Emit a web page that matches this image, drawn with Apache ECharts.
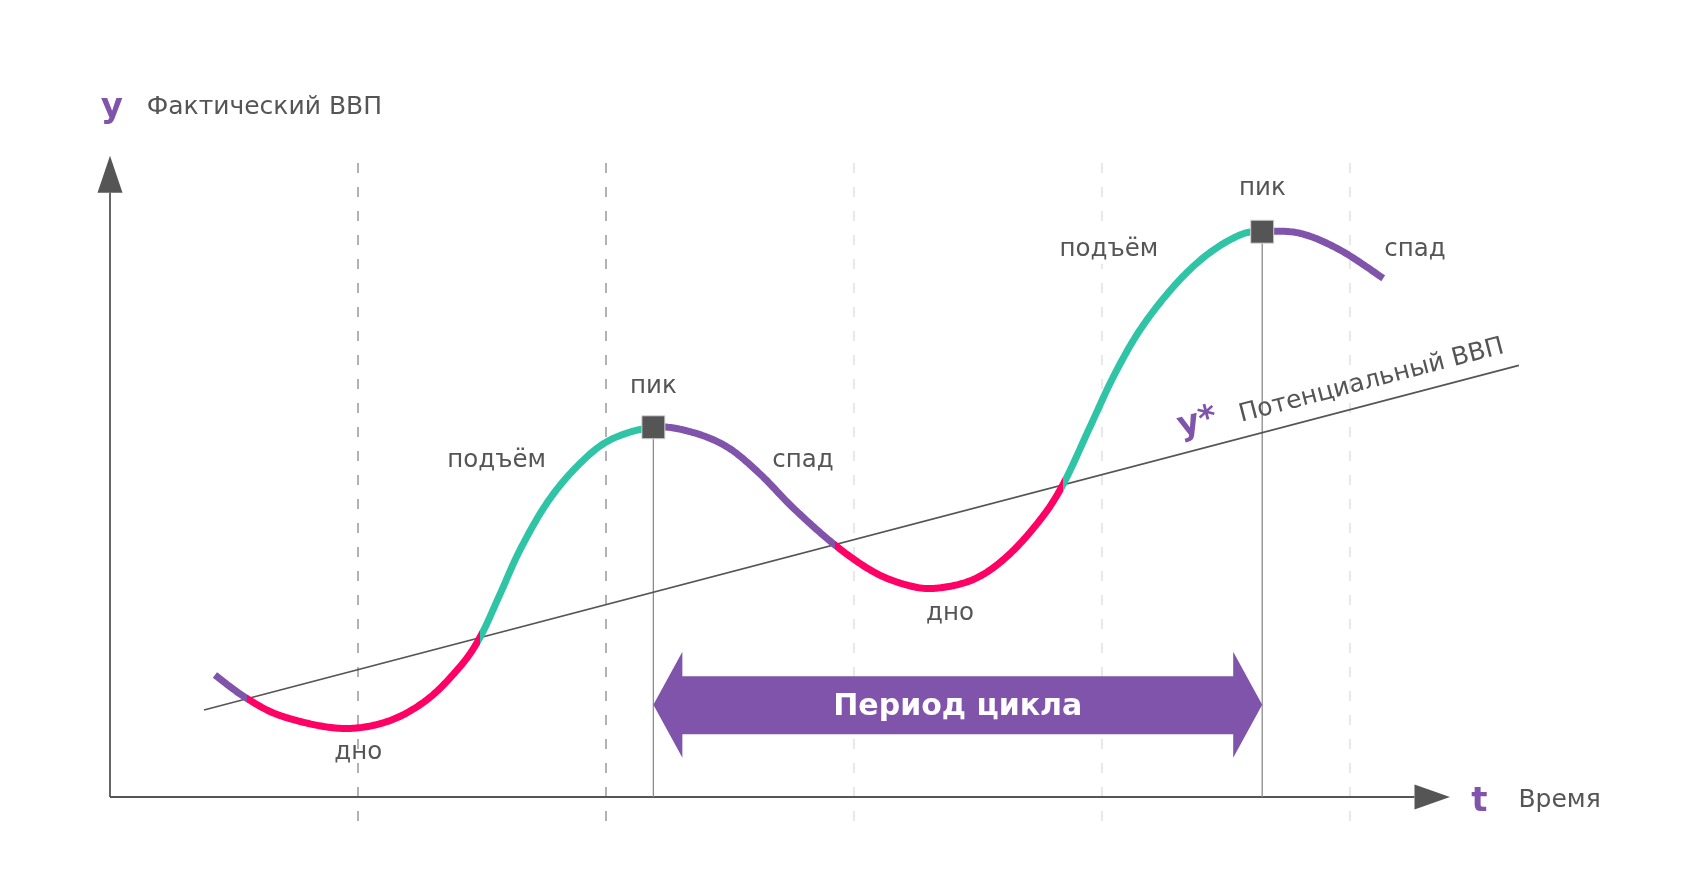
<!DOCTYPE html>
<html><head><meta charset="utf-8">
<script src="https://cdn.jsdelivr.net/npm/echarts@6/dist/echarts.min.js"></script>
<style>html,body{margin:0;padding:0;background:#fff}#c{width:1700px;height:882px}</style>
</head><body><div id="c"></div>
<script>
// ---------- data ----------
const timeX = [0.423,0.551,0.699,0.927,1.116,1.277,1.411,1.492,1.573,1.653,1.761,1.882,2.016,2.191,2.339,2.487,2.621,2.755,2.923,3.078,3.212,3.327,3.481,3.616,3.750,3.844,3.952,4.046,4.153,4.288,4.422,4.556,4.646,4.798,4.960,5.134];
const actualGDP = [1.906,1.542,1.255,1.073,1.177,1.516,2.036,2.495,3.172,3.859,4.589,5.161,5.578,5.777,5.708,5.473,5.047,4.516,3.938,3.520,3.313,3.261,3.398,3.755,4.328,4.891,5.786,6.567,7.297,7.973,8.469,8.781,8.833,8.808,8.547,8.105];
const potentialX = [0.379, 5.681];
const potentialGDP = [1.359, 6.744];
const phaseTicks = [1, 2, 3, 4, 5];
const phaseBreaks = [0.551, 1.492, 2.191, 2.923, 3.844, 4.646];
const phaseKinds = ['спад', 'дно', 'подъём', 'спад', 'дно', 'подъём', 'спад'];
const peakX = [2.191, 4.646];
const peakY = [5.777, 8.833];
const phaseLabels = ['дно', 'подъём', 'пик', 'спад', 'дно', 'подъём', 'пик', 'спад'];
const phaseLabelX = [1.001, 1.559, 2.191, 2.794, 3.387, 4.028, 4.647, 5.262];
const phaseLabelY = [0.69, 5.25, 6.41, 5.25, 2.86, 8.56, 9.51, 8.56];
const periodY = 1.442;
const periodText = 'Период цикла';
const axisYTop = 10.02, axisYArrowBase = 9.44;
const axisXEnd = 5.403, axisXArrowBase = 5.26;
const dashBottom = -0.375, dashTop = 10.02;

// ---------- styles ----------
const FONT = '"DejaVu Sans", sans-serif';
const PURPLE = '#7F54AA', RED = '#FF0064', GREEN = '#2FC4A6', INK = '#555555';
const kindColor = {'спад': PURPLE, 'дно': RED, 'подъём': GREEN};

const chart = echarts.init(document.getElementById('c'), null, {renderer: 'canvas'});

function txt(x, y, text, opt) {
  return Object.assign({type: 'text', x: x, y: y,
    style: Object.assign({text: text, fill: INK, fontFamily: FONT, fontSize: 24,
      align: 'center', verticalAlign: 'middle'}, opt.style || {})}, opt.el || {});
}

// Catmull-Rom spline through the pixel positions of the data points
function splinePoints(pts) {
  const out = [pts[0].slice()];
  const n = pts.length;
  for (let i = 0; i < n - 1; i++) {
    const p0 = pts[Math.max(i - 1, 0)], p1 = pts[i], p2 = pts[i + 1], p3 = pts[Math.min(i + 2, n - 1)];
    const c1 = [p1[0] + (p2[0] - p0[0]) / 6, p1[1] + (p2[1] - p0[1]) / 6];
    const c2 = [p2[0] - (p3[0] - p1[0]) / 6, p2[1] - (p3[1] - p1[1]) / 6];
    const steps = 24;
    for (let s = 1; s <= steps; s++) {
      const t = s / steps, u = 1 - t;
      out.push([
        u * u * u * p1[0] + 3 * u * u * t * c1[0] + 3 * u * t * t * c2[0] + t * t * t * p2[0],
        u * u * u * p1[1] + 3 * u * u * t * c1[1] + 3 * u * t * t * c2[1] + t * t * t * p2[1]
      ]);
    }
  }
  return out;
}

const option = {
  animation: false,
  grid: {left: 110, right: 102, top: 29, bottom: 21},
  xAxis: {type: 'value', min: 0, max: 6, show: false},
  yAxis: {type: 'value', min: -1, max: 12, show: false},
  series: [
    // 0: dashed phase lines
    {type: 'custom', z: 1, data: phaseTicks.map(t => [t]),
      renderItem: (params, api) => {
        const a = api.coord([api.value(0), dashBottom]);
        const b = api.coord([api.value(0), dashTop]);
        return {type: 'line', shape: {x1: a[0], y1: a[1], x2: b[0], y2: b[1]},
          style: {stroke: params.dataIndex < 2 ? '#8a8a8a' : '#dcdcdc', lineWidth: 1.3, lineDash: [10, 14]}};
      }},
    // 1: axes with arrows
    {type: 'custom', z: 2, data: [[0, 0]],
      renderItem: (params, api) => {
        const o = api.coord([0, 0]);
        const yt = api.coord([0, axisYTop]), yb = api.coord([0, axisYArrowBase]);
        const xt = api.coord([axisXEnd, 0]), xb = api.coord([axisXArrowBase, 0]);
        return {type: 'group', children: [
          {type: 'line', shape: {x1: o[0], y1: o[1], x2: yb[0], y2: yb[1]}, style: {stroke: INK, lineWidth: 1.8}},
          {type: 'line', shape: {x1: o[0], y1: o[1], x2: xb[0], y2: xb[1]}, style: {stroke: INK, lineWidth: 1.8}},
          {type: 'polygon', shape: {points: [[yt[0], yt[1]], [yb[0] - 12.5, yb[1]], [yb[0] + 12.5, yb[1]]]}, style: {fill: INK}},
          {type: 'polygon', shape: {points: [[xt[0], xt[1]], [xb[0], xb[1] - 12.5], [xb[0], xb[1] + 12.5]]}, style: {fill: INK}}
        ]};
      }},
    // 2: potential GDP line
    {type: 'line', z: 3, data: potentialX.map((x, i) => [x, potentialGDP[i]]), symbol: 'none',
      lineStyle: {color: INK, width: 1.7}},
    // 3: actual GDP curve (spline through the data points, coloured by phase)
    {type: 'custom', z: 4, data: [[timeX[0], actualGDP[0]]],
      renderItem: (params, api) => {
        const pts = timeX.map((x, i) => api.coord([x, actualGDP[i]]));
        const sp = splinePoints(pts);
        const x0 = pts[0][0], x1 = pts[pts.length - 1][0], w = x1 - x0;
        const bx = phaseBreaks.map(b => api.coord([b, 0])[0]);
        const stops = [];
        for (let i = 0; i <= bx.length; i++) {
          const s = i === 0 ? 0 : (bx[i - 1] - x0) / w;
          const e = i === bx.length ? 1 : (bx[i] - x0) / w;
          const c = kindColor[phaseKinds[i]];
          stops.push({offset: Math.max(0, Math.min(1, s)), color: c});
          stops.push({offset: Math.max(0, Math.min(1, e)), color: c});
        }
        return {type: 'polyline', shape: {points: sp},
          style: {fill: null, lineWidth: 7, lineCap: 'butt', lineJoin: 'round',
            stroke: new echarts.graphic.LinearGradient(x0, 0, x1, 0, stops, true)}};
      }},
    // 4: peak verticals
    {type: 'custom', z: 2, data: peakX.map((x, i) => [x, peakY[i]]),
      renderItem: (params, api) => {
        const a = api.coord([api.value(0), api.value(1)]);
        const b = api.coord([api.value(0), 0]);
        return {type: 'line', shape: {x1: a[0], y1: a[1], x2: b[0], y2: b[1]}, style: {stroke: '#8c8c8c', lineWidth: 1.3}};
      }},
    // 5: peak squares
    {type: 'scatter', z: 6, data: peakX.map((x, i) => [x, peakY[i]]), symbol: 'rect', symbolSize: 23,
      itemStyle: {color: '#555555', borderColor: '#d4d4d4', borderWidth: 1, opacity: 1}},
    // 6: phase labels
    {type: 'custom', z: 7, data: phaseLabelX.map((x, i) => [x, phaseLabelY[i]]),
      renderItem: (params, api) => {
        const p = api.coord([api.value(0), api.value(1)]);
        return txt(p[0], p[1], phaseLabels[params.dataIndex], {style: {fontSize: 24.5, backgroundColor: params.dataIndex === 5 ? '#fff' : null, padding: [2, 2]}});
      }},
    // 7: period arrow
    {type: 'custom', z: 8, data: [[peakX[0], peakX[1], periodY]],
      renderItem: (params, api) => {
        const l = api.coord([api.value(0), api.value(2)]);
        const r = api.coord([api.value(1), api.value(2)]);
        const y = l[1], hx = 29, hh = 53, st = 28.5, sb = 29.5;
        const pts = [[l[0], y], [l[0] + hx, y - hh], [l[0] + hx, y - st], [r[0] - hx, y - st], [r[0] - hx, y - hh],
          [r[0], y], [r[0] - hx, y + hh], [r[0] - hx, y + sb], [l[0] + hx, y + sb], [l[0] + hx, y + hh]];
        return {type: 'group', children: [
          {type: 'polygon', shape: {points: pts}, style: {fill: PURPLE}},
          txt((l[0] + r[0]) / 2, y + 2, periodText, {style: {fill: '#ffffff', fontSize: 30, fontWeight: 'bold'}})
        ]};
      }},
    // 8: axis titles & potential label
    {type: 'custom', z: 9, data: [[0, 0]],
      renderItem: (params, api) => {
        const p0 = api.coord([potentialX[0], potentialGDP[0]]);
        const p1 = api.coord([potentialX[1], potentialGDP[1]]);
        const ang = Math.atan2(p0[1] - p1[1], p1[0] - p0[0]);
        const slope = (potentialGDP[1] - potentialGDP[0]) / (potentialX[1] - potentialX[0]);
        const yS = api.coord([4.385, potentialGDP[0] + slope * (4.385 - potentialX[0]) + 0.42]);
        const pS = api.coord([5.087, potentialGDP[0] + slope * (5.087 - potentialX[0]) + 0.36]);
        const ya = api.coord([0.007, 10.77]);
        const yl = api.coord([0.148, 10.77]);
        const ta = api.coord([5.522, -0.08]);
        const tl = api.coord([5.679, -0.05]);
        return {type: 'group', children: [
          txt(ya[0], ya[1], 'y', {style: {fill: PURPLE, fontSize: 34, fontWeight: 'bold'}}),
          txt(yl[0], yl[1], 'Фактический ВВП', {style: {align: 'left', fontSize: 25}}),
          txt(ta[0], ta[1], 't', {style: {fill: PURPLE, fontSize: 34, fontWeight: 'bold'}}),
          txt(tl[0], tl[1], 'Время', {style: {align: 'left', fontSize: 25}}),
          txt(yS[0], yS[1], 'y*', {style: {fill: PURPLE, fontSize: 34, fontWeight: 'bold'}, el: {rotation: ang}}),
          txt(pS[0], pS[1], 'Потенциальный ВВП', {style: {fontSize: 25}, el: {rotation: ang}})
        ]};
      }}
  ]
};
chart.setOption(option);
</script>
</body></html>
